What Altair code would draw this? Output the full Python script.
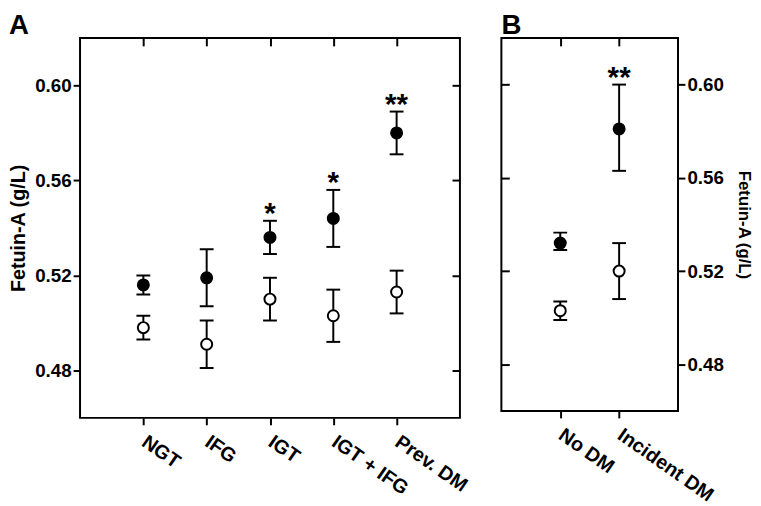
import altair as alt
import pandas as pd

FONT = "Liberation Sans"

# ---- Panel A data ----
cats_a = ["NGT", "IFG", "IGT", "IGT + IFG", "Prev. DM"]
filled_a = [0.516, 0.519, 0.536, 0.544, 0.580]
filled_a_lo = [0.512, 0.507, 0.529, 0.532, 0.571]
filled_a_hi = [0.520, 0.531, 0.543, 0.556, 0.589]
open_a = [0.498, 0.491, 0.510, 0.503, 0.513]
open_a_lo = [0.493, 0.481, 0.501, 0.492, 0.504]
open_a_hi = [0.503, 0.501, 0.519, 0.514, 0.522]
stars_a = ["", "", "*", "*", "**"]

# ---- Panel B data ----
cats_b = ["No DM", "Incident DM"]
filled_b = [0.532, 0.581]
filled_b_lo = [0.529, 0.563]
filled_b_hi = [0.5365, 0.600]
open_b = [0.503, 0.520]
open_b_lo = [0.499, 0.508]
open_b_hi = [0.507, 0.532]
stars_b = ["", "**"]

y_ticks = [0.48, 0.52, 0.56, 0.60]
y_domain = [0.46, 0.62]


def make_df(cats, f, flo, fhi, o, olo, ohi):
    rows = []
    for i, c in enumerate(cats):
        rows.append(dict(cat=c, group="filled", v=f[i], lo=flo[i], hi=fhi[i]))
        rows.append(dict(cat=c, group="open", v=o[i], lo=olo[i], hi=ohi[i]))
    return pd.DataFrame(rows)


def make_stars(cats, fhi, stars):
    return pd.DataFrame(
        [dict(cat=c, hi=fhi[i], s=stars[i]) for i, c in enumerate(cats) if stars[i]]
    )


def panel(cats, df, sdf, width, height, main_side, label, title_size, title_pad):
    xs = alt.Scale(type="point", padding=1)
    ys = alt.Scale(domain=y_domain, nice=False, zero=False)
    mirror_side = "right" if main_side == "left" else "left"

    x_main_axis = alt.Axis(
        orient="bottom", labelAngle=35, labelAlign="left", labelBaseline="middle",
        tickSize=7, tickWidth=2, tickColor="black", domain=False, labelPadding=15,
        labelFont=FONT, labelFontWeight="bold", labelFontSize=20, labelColor="black",
        title=None,
    )
    x_mirror_axis = alt.Axis(
        orient="top", labels=False, tickSize=8, tickWidth=2, tickColor="black",
        domain=False, offset=-8, title=None,
    )
    y_main_axis = alt.Axis(
        orient=main_side, values=y_ticks, format=".2f", tickSize=7, tickWidth=2,
        tickColor="black", domain=False, labelPadding=2, grid=False,
        labelFont=FONT, labelFontWeight="bold", labelFontSize=19, labelColor="black",
        title="Fetuin-A (g/L)", titleFont=FONT, titleFontWeight="bold",
        titleFontSize=title_size, titleColor="black", titlePadding=title_pad,
    )
    y_mirror_axis = alt.Axis(
        orient=mirror_side, values=y_ticks, labels=False, tickSize=8, tickWidth=2,
        tickColor="black", domain=False, offset=-8, grid=False, title=None,
    )

    base = alt.Chart(df)
    rules = base.mark_rule(color="black", strokeWidth=2).encode(
        x=alt.X("cat:N", sort=cats, scale=xs, axis=x_mirror_axis),
        y=alt.Y("lo:Q", scale=ys, axis=y_main_axis),
        y2="hi:Q",
    )
    cap_lo = base.mark_tick(color="black", size=14, thickness=2, opacity=1).encode(
        x=alt.X("cat:N", sort=cats, scale=xs, axis=None),
        y=alt.Y("lo:Q", scale=ys, axis=None),
    )
    cap_hi = base.mark_tick(color="black", size=14, thickness=2, opacity=1).encode(
        x=alt.X("cat:N", sort=cats, scale=xs, axis=None),
        y=alt.Y("hi:Q", scale=ys, axis=None),
    )
    pts = base.mark_point(
        filled=True, shape="circle", size=125, stroke="black", strokeWidth=2, opacity=1
    ).encode(
        x=alt.X("cat:N", sort=cats, scale=xs, axis=x_main_axis),
        y=alt.Y("v:Q", scale=ys, axis=y_mirror_axis),
        fill=alt.Fill("group:N", scale=alt.Scale(domain=["filled", "open"],
                                                 range=["black", "white"]), legend=None),
    )
    stars = alt.Chart(sdf).mark_text(
        font=FONT, fontWeight="bold", fontSize=30, baseline="alphabetic", dy=2,
        color="black",
    ).encode(
        x=alt.X("cat:N", sort=cats, scale=xs, axis=None),
        y=alt.Y("hi:Q", scale=ys, axis=None),
        text="s:N",
    )
    return alt.layer(rules, cap_lo, cap_hi, pts, stars).resolve_axis(
        x="independent", y="independent"
    ).properties(
        width=width, height=height,
        title=alt.TitleParams(label, anchor="start", frame="bounds" if main_side == "left" else "group",
                              font=FONT, fontWeight="bold", fontSize=28, color="black", offset=-3),
    )


df_a = make_df(cats_a, filled_a, filled_a_lo, filled_a_hi, open_a, open_a_lo, open_a_hi)
df_b = make_df(cats_b, filled_b, filled_b_lo, filled_b_hi, open_b, open_b_lo, open_b_hi)
sa = make_stars(cats_a, filled_a_hi, stars_a)
sb = make_stars(cats_b, filled_b_hi, stars_b)

pa = panel(cats_a, df_a, sa, 385, 385, "left", "A", 20, 6)
pb = panel(cats_b, df_b, sb, 179, 378, "right", "B", 17, 11)

chart = alt.hconcat(pa, pb, spacing=28).properties(
    padding={"left": 0, "top": 0, "right": 0, "bottom": 0}
).configure(
    background="white",
    view=alt.ViewConfig(stroke="black", strokeWidth=2),
)

chart.save("out.html", embed_options={"renderer": "svg", "actions": False})
